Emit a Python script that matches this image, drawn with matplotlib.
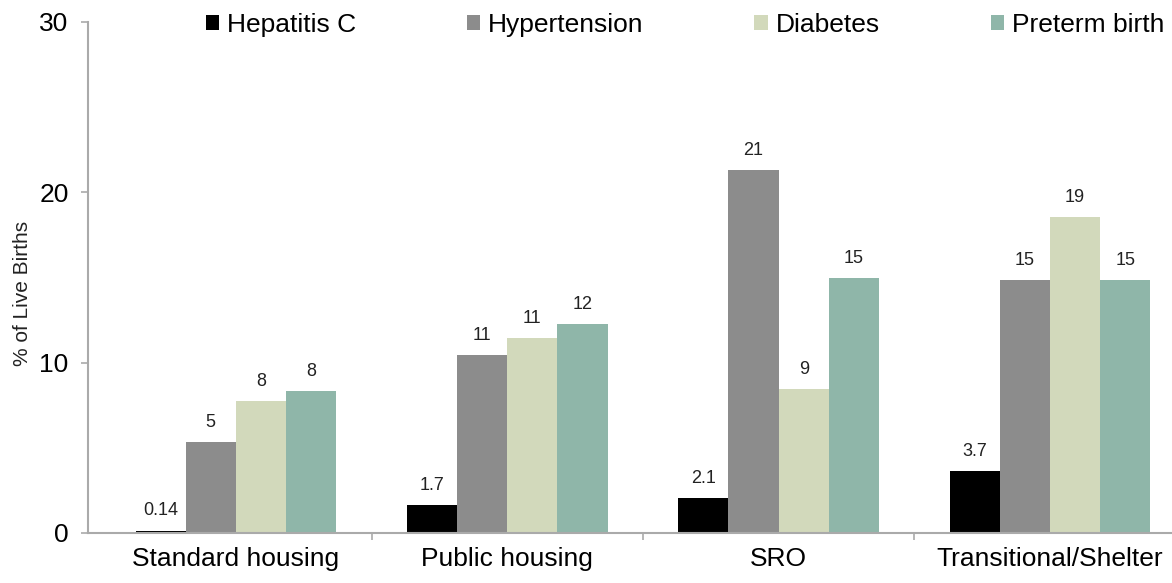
import numpy as np
import matplotlib.pyplot as plt
from matplotlib.patches import Patch

plt.rcParams['font.family'] = ['Liberation Sans', 'DejaVu Sans']

# ===== data =====
categories = ["Standard housing", "Public housing", "SRO", "Transitional/Shelter"]
series = ["Hepatitis C", "Hypertension", "Diabetes", "Preterm birth"]
hep_c = [0.14, 1.65, 2.05, 3.65]
hypertension = [5.35, 10.45, 21.3, 14.85]
diabetes = [7.75, 11.45, 8.45, 18.55]
preterm = [8.35, 12.25, 14.95, 14.85]
bar_labels = [
    ["0.14", "1.7", "2.1", "3.7"],
    ["5", "11", "21", "15"],
    ["8", "11", "9", "19"],
    ["8", "12", "15", "15"],
]
colors = ["#000000", "#8c8c8c", "#d2d9bb", "#8fb6a9"]

values = [hep_c, hypertension, diabetes, preterm]

fig = plt.figure(figsize=(11.72, 5.83), dpi=100)
ax = fig.add_axes([0.0751, 0.0858, 0.947, 0.8765])

x = np.arange(len(categories))
w = 0.185
for k, (vals, col) in enumerate(zip(values, colors)):
    pos = x + (k - 1.5) * w
    ax.bar(pos, vals, width=w, color=col, edgecolor="none")
    for px, v, lab in zip(pos, vals, bar_labels[k]):
        ax.annotate(lab, (px, v), xytext=(0, 8), textcoords="offset points",
                    ha="center", va="bottom", fontsize=13, color="#222222")

ax.set_xlim(-0.545, 3.545)
ax.set_ylim(0, 30)
ax.set_yticks([0, 10, 20, 30])
ax.set_xticks(x)
ax.set_xticklabels(categories, fontsize=19)
ax.set_xticks([0.5, 1.5, 2.5], minor=True)
ax.tick_params(axis="x", which="major", length=0, pad=10)
ax.tick_params(axis="x", which="minor", length=5, direction="out", color="#aaaaaa", width=1.2)
ax.tick_params(axis="y", labelsize=19, length=5, color="#aaaaaa", width=1.2, pad=9)

for s in ["top", "right"]:
    ax.spines[s].set_visible(False)
for s in ["left", "bottom"]:
    ax.spines[s].set_color("#aaaaaa")
    ax.spines[s].set_linewidth(1.5)

fig.text(22 / 1172, 0.497, "% of Live Births", rotation=90, ha="center", va="center",
         fontsize=15, color="#222222")

handles = [Patch(facecolor=c, edgecolor="none") for c in colors]
fig.legend(handles, series, loc="center", bbox_to_anchor=(685 / 1172, 0.957), ncol=4,
           frameon=False, fontsize=19, handlelength=0.5, handleheight=0.5,
           handletextpad=0.3, columnspacing=4.2)

fig.savefig("out.png", dpi=100)
